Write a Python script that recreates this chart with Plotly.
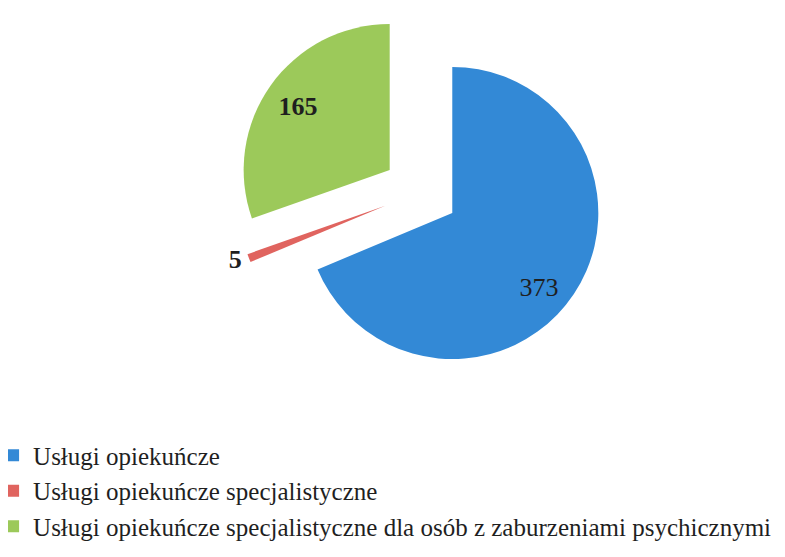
import plotly.graph_objects as go

categories = [
    "Usługi opiekuńcze",
    "Usługi opiekuńcze specjalistyczne",
    "Usługi opiekuńcze specjalistyczne dla osób z zaburzeniami psychicznymi",
]
values = [373, 5, 165]
colors = ["#3389D6", "#E0645F", "#9CC95A"]
label_weight = ["normal", "bold", "bold"]
text_pos = ["inside", "outside", "inside"]

SERIF = "Liberation Serif, Times New Roman, serif"
NB = "&nbsp;"

# Padding nudges the visible label within Plotly's inside-text box
# (leading pad -> text moves right/down, trailing pad -> left/up).
label_pad = [
    (NB + "<br>" + NB + "<br>" + NB * 8, ""),
    ("", ""),
    ("", NB * 8 + "<br>" + NB),
]


def fmt(v, w, pad):
    core = f"<b>{v}</b>" if w == "bold" else str(v)
    return pad[0] + core + pad[1]


texts = [fmt(v, w, p) for v, w, p in zip(values, label_weight, label_pad)]

fig = go.Figure(
    go.Pie(
        labels=categories,
        values=values,
        text=texts,
        textinfo="text",
        textposition=text_pos,
        insidetextorientation="horizontal",
        sort=False,
        direction="clockwise",
        rotation=0,
        pull=[0.26, 0.26, 0.26],
        marker=dict(colors=colors, line=dict(width=0)),
        textfont=dict(family=SERIF, size=26, color="#1f1f1f"),
        domain=dict(x=[0.2913, 0.7601], y=[0.3393, 1.0]),
        hoverinfo="label+value",
        hovertemplate="%{label}: %{value}<extra></extra>",
    )
)

fig.update_layout(
    width=785,
    height=557,
    margin=dict(l=0, r=0, t=0, b=0, autoexpand=False),
    font=dict(family=SERIF, color="#1f1f1f"),
    paper_bgcolor="white",
    plot_bgcolor="white",
    showlegend=True,
    legend=dict(
        x=-0.019,
        y=0.238,
        xanchor="left",
        yanchor="top",
        font=dict(family=SERIF, size=25, color="#1f1f1f"),
        bgcolor="rgba(0,0,0,0)",
    ),
)

fig.write_html("out.html")
